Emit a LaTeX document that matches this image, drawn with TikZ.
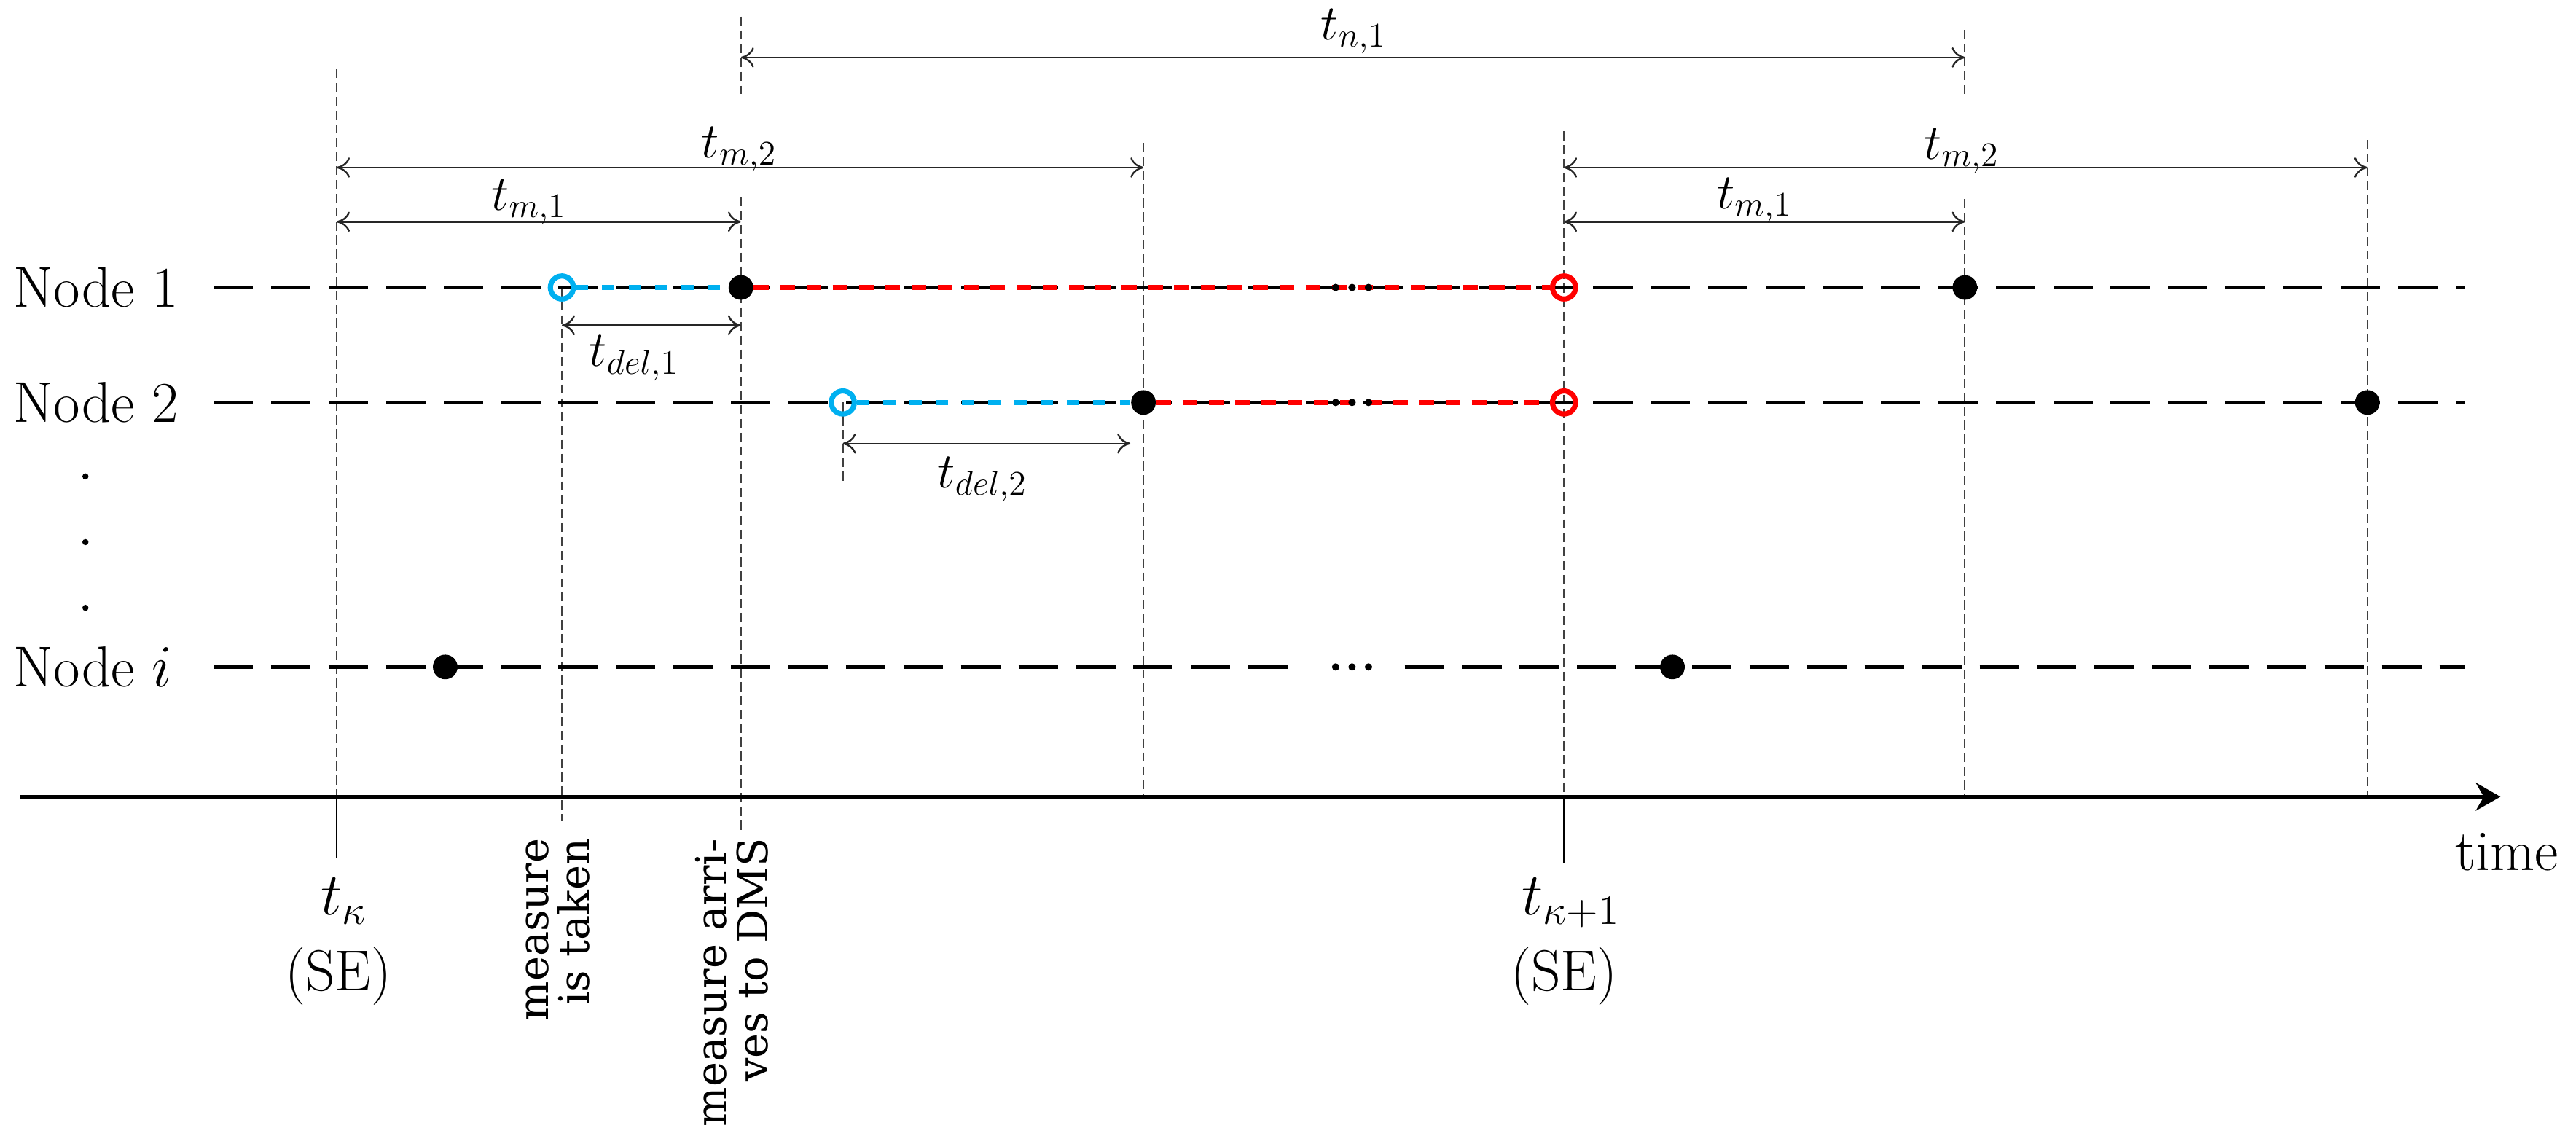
\documentclass[tikz,border=0pt]{standalone}
\usepackage{fontspec}
\newfontfamily\rotfont{DejaVu Serif}
\usetikzlibrary{arrows.meta}
\definecolor{myblue}{RGB}{0,176,240}
\definecolor{myred}{RGB}{255,0,0}
\tikzset{
 nodeline/.style={line width=1.3pt, dash pattern=on 0.48cm off 0.22cm},
 blueseg/.style={draw=myblue, line width=1.8pt, dash pattern=on 0.15cm off 0.17cm},
 redseg/.style={draw=myred, line width=1.8pt, dash pattern=on 0.18cm off 0.14cm},
 guide/.style={draw=black!75, line width=0.5pt, dash pattern=on 3.2pt off 1.6pt},
 ticksolid/.style={line width=0.6pt},
 span/.style={line width=0.6pt, draw=black!85, >={Computer Modern Rightarrow[width=7pt,length=4.5pt]}, <->},
 opendot/.style={circle, line width=1.8pt, minimum size=0.28cm, inner sep=0pt},
 fulldot/.style={circle, fill=black, minimum size=0.3cm, inner sep=0pt},
 vdot/.style={circle, fill=black, minimum size=0.075cm, inner sep=0pt},
 edot/.style={circle, fill=black, minimum size=0.09cm, inner sep=0pt},
 lbl/.style={font=\fontsize{18}{22}\selectfont, inner sep=0pt, anchor=base},
 big/.style={font=\fontsize{20}{24}\selectfont, inner sep=0pt, anchor=base},
 vtext/.style={font=\rotfont\fontsize{14.5}{14.2}\selectfont, rotate=90, align=right, anchor=east, inner sep=0pt},
}
\begin{document}
\begin{tikzpicture}[x=0.02cm, y=-0.02cm]
\useasboundingbox (0,0) rectangle (1568,696);

% ---------- coordinates ----------
\coordinate (g1t) at (205,42);   \coordinate (g1b) at (205,485); \coordinate (g1e) at (205,522);
\coordinate (g2t) at (342,175);  \coordinate (g2b) at (342,500);
\coordinate (g3t) at (451,10);   \coordinate (g3m) at (451,57);
\coordinate (g3n) at (451,120);  \coordinate (g3b) at (451,505);
\coordinate (g4t) at (513,245);  \coordinate (g4b) at (513,295);
\coordinate (g5t) at (696,87);   \coordinate (g5b) at (696,485);
\coordinate (g6t) at (952,80);   \coordinate (g6b) at (952,485); \coordinate (g6e) at (952,525);
\coordinate (g7t) at (1196,18);  \coordinate (g7m) at (1196,57);
\coordinate (g7n) at (1196,121); \coordinate (g7b) at (1196,485);
\coordinate (g8t) at (1441,85);  \coordinate (g8b) at (1441,485);

\coordinate (l1s) at (130,175); \coordinate (l1e) at (1500,175);
\coordinate (l2s) at (130,245); \coordinate (l2e) at (1500,245);
\coordinate (lis) at (130,406); \coordinate (lia) at (787,406);
\coordinate (lib) at (855,406); \coordinate (lie) at (1500,406);

\coordinate (ax0) at (12,485); \coordinate (ax1) at (1522,485);

% ---------- guides ----------
\draw[guide] (g1t) -- (g1b);
\draw[guide] (g2t) -- (g2b);
\draw[guide] (g3t) -- (g3m);
\draw[guide] (g3n) -- (g3b);
\draw[guide] (g4t) -- (g4b);
\draw[guide] (g5t) -- (g5b);
\draw[guide] (g6t) -- (g6b);
\draw[guide] (g7t) -- (g7m);
\draw[guide] (g7n) -- (g7b);
\draw[guide] (g8t) -- (g8b);
\draw[ticksolid] (g1b) -- (g1e);
\draw[ticksolid] (g6b) -- (g6e);

% ---------- time axis ----------
\draw[line width=1.3pt, -{Stealth[length=0.3cm,width=0.34cm]}] (ax0) -- (ax1);

% ---------- node labels ----------
\node[big, anchor=base west] (n1) at (8,187) {Node 1};
\node[big, anchor=base west] (n2) at (8,257) {Node 2};
\node[big, anchor=base west] (ni) at (8,418) {Node $i$};
\node[vdot] (v1) at (52,290) {};
\node[vdot] (v2) at (52,330) {};
\node[vdot] (v3) at (52,370) {};

% ---------- node time lines ----------
\draw[nodeline] (l1s) -- (l1e);
\draw[nodeline] (l2s) -- (l2e);
\draw[nodeline] (lis) -- (lia);
\draw[nodeline] (lib) -- (lie);

% events
\node[opendot, draw=myblue] (b1) at (342,175) {};
\node[fulldot] (k1) at (451,175) {};
\node[opendot, draw=myred] (r1) at (952,175) {};
\node[fulldot] (k1b) at (1196,175) {};

\node[opendot, draw=myblue] (b2) at (513,245) {};
\node[fulldot] (k2) at (696,245) {};
\node[opendot, draw=myred] (r2) at (952,245) {};
\node[fulldot] (k2b) at (1441,245) {};

\node[fulldot] (ki) at (271,406) {};
\node[fulldot] (kib) at (1018,406) {};

\draw[blueseg] (b1) -- (k1);
\draw[redseg] (k1) -- (r1);
\draw[blueseg] (b2) -- (k2);
\draw[redseg] (k2) -- (r2);

% ellipses
\foreach \yy/\nm in {175/a, 245/b, 406/c}{
  \node[edot] (e1\nm) at (813,\yy) {};
  \node[edot] (e2\nm) at (823,\yy) {};
  \node[edot] (e3\nm) at (833,\yy) {};
}

% ---------- spans ----------
\coordinate (s1a) at (451,35);  \coordinate (s1b) at (1196,35);
\coordinate (s2a) at (205,102); \coordinate (s2b) at (696,102);
\coordinate (s3a) at (205,135); \coordinate (s3b) at (451,135);
\coordinate (s4a) at (952,102); \coordinate (s4b) at (1441,102);
\coordinate (s5a) at (952,135); \coordinate (s5b) at (1196,135);
\coordinate (s6a) at (342,198); \coordinate (s6b) at (451,198);
\coordinate (s7a) at (513,270); \coordinate (s7b) at (688,270);

\draw[span] (s1a) -- (s1b);
\draw[span] (s2a) -- (s2b);
\draw[span] (s3a) -- (s3b);
\draw[span] (s4a) -- (s4b);
\draw[span] (s5a) -- (s5b);
\draw[span] (s6a) -- (s6b);
\draw[span] (s7a) -- (s7b);

\node[lbl] (L1) at (824,24) {$t_{n,1}$};
\node[lbl] (L2) at (450,96) {$t_{m,2}$};
\node[lbl] (L3) at (322,128) {$t_{m,1}$};
\node[lbl] (L4) at (1194,97) {$t_{m,2}$};
\node[lbl] (L5) at (1068,127) {$t_{m,1}$};
\node[lbl] (L6) at (386,223) {$t_{del,1}$};
\node[lbl] (L7) at (598,297) {$t_{del,2}$};

% ---------- axis labels ----------
\node[big, anchor=base west] (tk) at (195,557) {$t_\kappa$};
\node[big] (se1) at (206,603) {(SE)};
\node[big, anchor=base west] (tk1) at (926,557) {$t_{\kappa+1}$};
\node[big] (se2) at (952,603) {(SE)};
\node[big] (time) at (1526,530) {time};

\node[vtext] (m1) at (339.5,510) {measure\\is taken};
\node[vtext] (m2) at (445.5,510) {measure arri-\\ves to DMS};
\end{tikzpicture}
\end{document}
